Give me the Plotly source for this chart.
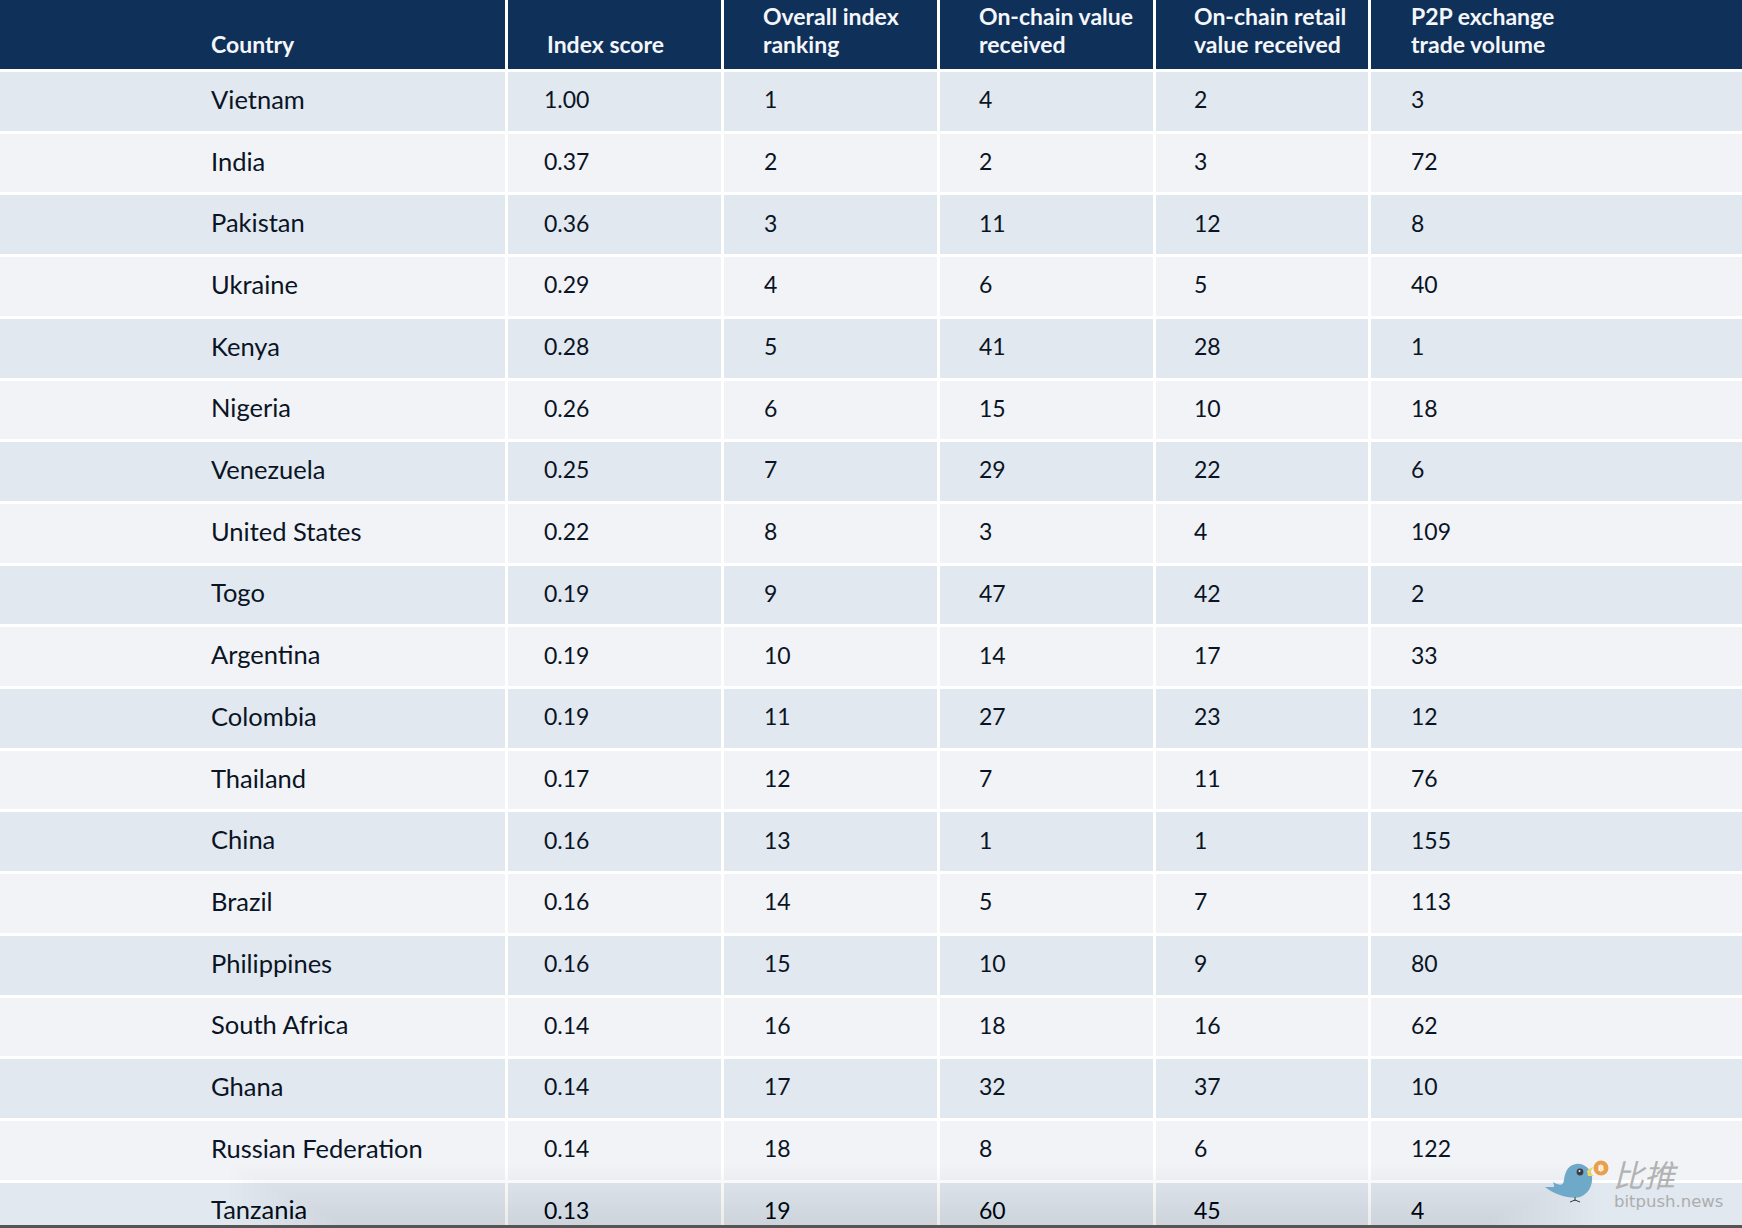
import plotly.graph_objects as go

countries = ["Vietnam", "India", "Pakistan", "Ukraine", "Kenya", "Nigeria", "Venezuela",
             "United States", "Togo", "Argentina", "Colombia", "Thailand", "China", "Brazil",
             "Philippines", "South Africa", "Ghana", "Russian Federation", "Tanzania"]
index_score = ["1.00", "0.37", "0.36", "0.29", "0.28", "0.26", "0.25", "0.22", "0.19", "0.19",
               "0.19", "0.17", "0.16", "0.16", "0.16", "0.14", "0.14", "0.14", "0.13"]
overall_rank = [1, 2, 3, 4, 5, 6, 7, 8, 9, 10, 11, 12, 13, 14, 15, 16, 17, 18, 19]
onchain_value = [4, 2, 11, 6, 41, 15, 29, 3, 47, 14, 27, 7, 1, 5, 10, 18, 32, 8, 60]
onchain_retail = [2, 3, 12, 5, 28, 10, 22, 4, 42, 17, 23, 11, 1, 7, 9, 16, 37, 6, 45]
p2p_volume = [3, 72, 8, 40, 1, 18, 6, 109, 2, 33, 12, 76, 155, 113, 80, 62, 10, 122, 4]

header_line1 = ["", "", "Overall index", "On-chain value", "On-chain retail", "P2P exchange"]
header_line2 = ["Country", "Index score", "ranking", "received", "value received", "trade volume"]

WIDTH, HEIGHT = 1742, 1228
ROW_PX = 61.7
HEADER_PX = 71
FONT = "Lato"
NAVY = "#0f3059"
BAND_A = "#e1e8f0"
BAND_B = "#f1f3f7"

# column edges and text starts, in pixels of the page
col_edges = [-10, 507, 723, 939, 1155, 1370, 1760]
text_x = [211, 544, 764, 979, 1194, 1411]
header_x = [211, 547, 763, 979, 1194, 1411]


def py(px):
    # page pixel to row units on the y axis
    return (px - HEADER_PX) / ROW_PX


def pp(x, y):
    # page pixel to paper coordinates, for the watermark and the shadow
    return x / WIDTH, 1 - y / HEIGHT


def path(points, close=True):
    # points are page pixels; 3 in a row after the first make a bezier segment
    out = "M%f,%f" % pp(*points[0])
    for i in range(1, len(points), 3):
        out += " C" + " ".join("%f,%f" % pp(*p) for p in points[i:i + 3])
    return out + (" Z" if close else "")


def box(x0, y0, x1, y1, **kw):
    a, b = pp(x0, y0)
    c, d = pp(x1, y1)
    return dict(type="rect", xref="paper", yref="paper", x0=a, y0=b, x1=c, y1=d,
                line_width=0, layer="above", **kw)


def circle(cx, cy, r, color):
    a, b = pp(cx - r, cy - r)
    c, d = pp(cx + r, cy + r)
    return dict(type="circle", xref="paper", yref="paper", x0=a, y0=b, x1=c, y1=d,
                fillcolor=color, line_width=0, layer="above")


columns = [countries, index_score, overall_rank, onchain_value, onchain_retail, p2p_volume]
n = len(countries)

y_edges = [py(-10), 0] + [i + 1 for i in range(n)]
z = [[2] * 6] + [[(i % 2)] * 6 for i in range(n)]

fig = go.Figure()
fig.add_trace(go.Heatmap(
    x=col_edges, y=y_edges, z=z, zmin=0, zmax=2, xgap=3, ygap=3, showscale=False, hoverinfo="skip",
    colorscale=[[0, BAND_A], [0.5, BAND_B], [1, NAVY]],
))

rows_y = [i + 0.51 for i in range(n)]
for j, (x, col) in enumerate(zip(text_x, columns)):
    # the figures in the number columns run smaller than the country names
    size = 25.5 if j == 0 else 23
    fig.add_trace(go.Scatter(
        x=[x] * n, y=rows_y, text=[str(v) for v in col], mode="text", textposition="middle right",
        textfont=dict(family=FONT, size=size, color="#0a1424"), hoverinfo="skip",
    ))
for line, ypx in ((header_line1, 19), (header_line2, 47)):
    fig.add_trace(go.Scatter(
        x=header_x, y=[py(ypx)] * 6, text=line, mode="text", textposition="middle right",
        textfont=dict(family=FONT, size=23, color="#f4f6f9", weight=700), hoverinfo="skip",
    ))

# soft shadow along the bottom edge, built from nested see-through boxes
shapes = []
for k in range(20):
    shapes.append(box(230 + k * 6, 1165 + k * 3, 1600 - k * 6, 1226, fillcolor="black", opacity=0.005))
shapes.append(box(0, 1225, WIDTH, HEIGHT, fillcolor="#555555"))

# watermark bird
shapes.append(dict(
    type="path", xref="paper", yref="paper", layer="above", fillcolor="#6fa9c9", line_width=0,
    path=path([(1545, 1187), (1556, 1196), (1572, 1199), (1580, 1197),
               (1588, 1194), (1593, 1186), (1592, 1176),
               (1590, 1168), (1583, 1163), (1576, 1164),
               (1568, 1165), (1565, 1172), (1564, 1180),
               (1563, 1186), (1560, 1186), (1553, 1182),
               (1554, 1184), (1554, 1186), (1554, 1187),
               (1551, 1187), (1548, 1187), (1545, 1187)]),
))
shapes.append(dict(
    type="path", xref="paper", yref="paper", layer="above", fillcolor="#f0d860", line_width=0,
    path=path([(1587, 1171), (1589, 1169), (1591, 1168), (1593, 1167),
               (1592, 1170), (1591, 1172), (1590, 1173),
               (1591, 1174), (1593, 1175), (1594, 1176),
               (1592, 1176), (1590, 1176), (1588, 1176)]),
))
shapes.append(circle(1580, 1172, 3.4, "#3c3c46"))
shapes.append(circle(1579.5, 1171, 1, "#e8e8e8"))
shapes.append(circle(1601, 1168, 7.5, "#e8a04e"))
for seg in ([(1575, 1197), (1575, 1201)], [(1570, 1202), (1575, 1200)], [(1580, 1202), (1575, 1200)]):
    shapes.append(dict(type="line", xref="paper", yref="paper", layer="above",
                       x0=pp(*seg[0])[0], y0=pp(*seg[0])[1], x1=pp(*seg[1])[0], y1=pp(*seg[1])[1],
                       line=dict(color="#3a3a3a", width=1)))

annotations = [
    dict(text="<i>比推</i>", x=pp(1611, 0)[0], y=pp(0, 1173)[1], xref="paper", yref="paper",
         xanchor="left", yanchor="middle", showarrow=False,
         font=dict(family="Noto Sans CJK SC", size=31, color="#b2b2b2")),
    dict(text="bitpush.news", x=pp(1612, 0)[0], y=pp(0, 1201)[1], xref="paper", yref="paper",
         xanchor="left", yanchor="middle", showarrow=False,
         font=dict(family="DejaVu Sans", size=16.5, color="#adadad")),
    dict(text="<b>฿</b>", x=pp(1601, 0)[0], y=pp(0, 1168)[1], xref="paper", yref="paper",
         xanchor="center", yanchor="middle", showarrow=False,
         font=dict(family="DejaVu Sans", size=9, color="#fff4e4")),
]

fig.update_layout(
    width=WIDTH, height=HEIGHT, margin=dict(l=0, r=0, t=0, b=0), showlegend=False,
    paper_bgcolor="white", plot_bgcolor="white", shapes=shapes, annotations=annotations,
    xaxis=dict(range=[0, WIDTH], visible=False, fixedrange=True),
    yaxis=dict(range=[py(HEIGHT), py(0)], visible=False, fixedrange=True),
)
# the page's default body margin would push the chart 8px in
fig.write_html("out.html", config=dict(displayModeBar=False),
               post_script="document.body.style.margin='0';")
